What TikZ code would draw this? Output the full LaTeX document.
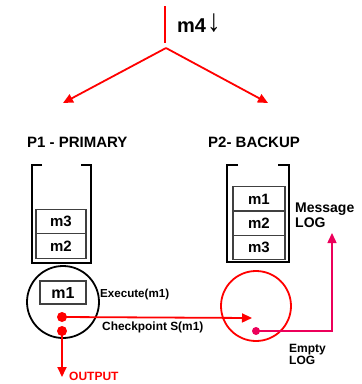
\documentclass[tikz,border=0pt]{standalone}
\usepackage{fontspec}
\usepackage{graphicx}
\setmainfont{Liberation Sans}
\usetikzlibrary{arrows.meta}
\definecolor{flow}{RGB}{255,0,0}
\definecolor{logpink}{RGB}{236,0,90}
\begin{document}
\begin{tikzpicture}[x=1pt,y=-1pt,
  lbl/.style={inner sep=0pt,anchor=base west,font=\bfseries},
  msgbox/.style={draw=black!75,line width=1.1pt,inner sep=0pt,
    minimum width=50pt,minimum height=24.5pt,font=\bfseries\fontsize{15}{15}\selectfont},
  stackwall/.style={line width=1.6pt,black},
  proc/.style={circle,line width=1.8pt,inner sep=0pt,minimum size=#1},
  dot/.style={circle,fill=#1,inner sep=0pt,minimum size=10pt},
  redline/.style={flow,line width=1.8pt},
  tip/.style={-{Triangle[length=10pt,width=9pt]}}]
\useasboundingbox (0,0) rectangle (362,384);

% incoming message m4 splitting to both replicas
\coordinate (in) at (165,6);
\coordinate (inend) at (165,43);
\coordinate (split) at (166,48);
\coordinate (toP1) at (63,103);
\coordinate (toP2) at (268,103);
\draw[redline] (in) -- (inend);
\draw[redline,tip] (split) -- (toP1);
\draw[redline,tip] (split) -- (toP2);
\node[lbl,font=\bfseries\fontsize{20}{20}\selectfont] (m4) at (177,32)
  {m4\kern1pt\raisebox{0.5pt}{\scalebox{1.5}[1.75]{\fontsize{18}{18}\selectfont↓}}};

% process headings
\node[lbl,font=\bfseries\fontsize{15}{15}\selectfont] (h1) at (27,147) {P1 - PRIMARY};
\node[lbl,font=\bfseries\fontsize{15}{15}\selectfont] (h2) at (208,147) {P2- BACKUP};

% primary message queue
\draw[stackwall] (42,165) -- (32,165) -- (32,263) -- (91,263) -- (91,165) -- (81,165);
\node[msgbox] (p3) at (61,221.5) {m3};
\node[msgbox] (p2) at (61,246) {m2};

% backup message log
\draw[stackwall] (238,165) -- (227,165) -- (227,262) -- (289,262) -- (289,165) -- (278,165);
\node[msgbox,minimum width=52pt] (b1) at (259,199) {m1};
\node[msgbox,minimum width=52pt] (b2) at (259,223) {m2};
\node[msgbox,minimum width=52pt] (b3) at (259,247.5) {m3};
\node[lbl,font=\bfseries\fontsize{14}{14}\selectfont] (ml1) at (295,212) {Message};
\node[lbl,font=\bfseries\fontsize{14}{14}\selectfont] (ml2) at (295,227) {LOG};

% primary execution
\node[proc=72pt,draw=black] (c1) at (63,302) {};
\node[msgbox,minimum width=46pt,minimum height=23pt,font=\bfseries\fontsize{16}{16}\selectfont] (run) at (63,292.5) {m1};
\node[lbl,font=\bfseries\fontsize{11.6}{12}\selectfont] (exe) at (100,297) {Execute(m1)};
\node[dot=flow] (d1) at (62,317) {};
\node[dot=flow] (d2) at (62,331) {};

% backup process
\node[proc=70pt,draw=flow] (c2) at (256,306) {};
\node[dot=logpink,minimum size=8pt] (d3) at (256,331) {};

% checkpoint, output and log emptying
\coordinate (ckend) at (252,318);
\coordinate (outend) at (62,377);
\coordinate (corner) at (332,331);
\coordinate (logend) at (332,233);
\draw[redline,tip] (d1.center) -- (ckend);
\draw[redline,tip] (d2.center) -- (outend);
\draw[logpink,line width=1.5pt,tip] (d3.center) -- (corner) -- (logend);
\node[lbl,font=\bfseries\fontsize{11.9}{12}\selectfont] (ck) at (102,330) {Checkpoint S(m1)};
\node[lbl,text=flow,font=\bfseries\fontsize{12}{12}\selectfont] (out) at (69,380) {OUTPUT};
\node[lbl,font=\bfseries\fontsize{12}{12}\selectfont] (el1) at (289,352) {Empty};
\node[lbl,font=\bfseries\fontsize{12}{12}\selectfont] (el2) at (289,364) {LOG};
\end{tikzpicture}
\end{document}
